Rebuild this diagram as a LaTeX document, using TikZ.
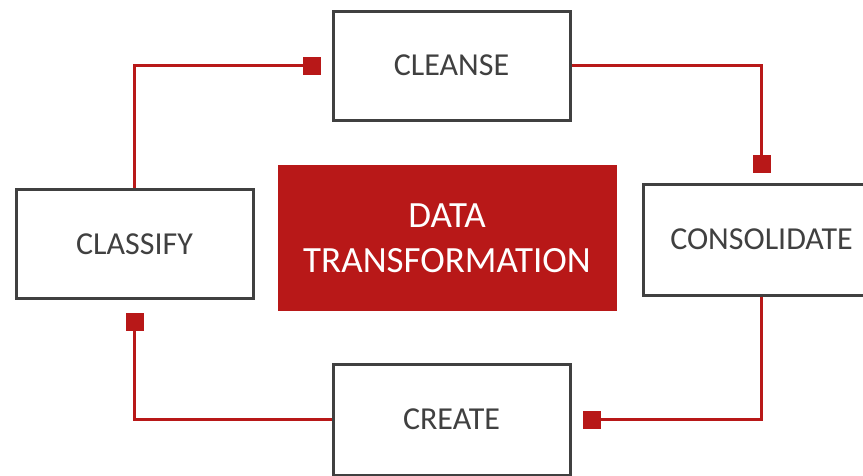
\documentclass[tikz,border=0pt]{standalone}
\usepackage{fontspec}
\setmainfont{Carlito}
\usetikzlibrary{arrows.meta, positioning}
\definecolor{boxgray}{RGB}{64,64,64}
\definecolor{brickred}{RGB}{184,24,24}
\tikzset{stagebox/.style = {%
    draw=boxgray, line width=3pt,
    minimum width=237pt, minimum height=109pt,
    text=boxgray, font=\fontsize{32}{38}\selectfont,
    inner sep=0pt, anchor=center},
    corebox/.style = {%
    fill=brickred, minimum width=339pt, minimum height=146pt,
    text=white, align=center,
    font=\fontsize{37}{45}\selectfont,
    inner sep=0pt, anchor=center},
    link/.style = {%
    draw=brickred, line width=3pt,
    -{Square[length=18pt, width=18pt]}}}

\begin{document}
\begin{tikzpicture}[x=1pt, y=-1pt]
\useasboundingbox (0,0) rectangle (863,475);
\node[stagebox] (cleanse)     at (451.5, 65.5)  {CLEANSE};
\node[stagebox] (classify)    at (134.5, 244)   {CLASSIFY};
\node[stagebox, minimum height=111pt]
                (consolidate) at (761.5, 239.5) {CONSOLIDATE};
\node[stagebox, minimum height=111pt]
                (create)      at (451.5, 419.5) {CREATE};
\node[corebox]  (core)        at (447, 238)     {\raisebox{-2pt}{DATA}\\\raisebox{-2pt}{TRANSFORMATION}};

\draw[link] (classify.north)    |- ([xshift=-11pt]cleanse.west);
\draw[link] (cleanse.east)      -| ([yshift=9.5pt]consolidate.north);
\draw[link] (consolidate.south) |- ([xshift=11pt]create.east);
\draw[link] (create.west)       -| ([yshift=-13pt]classify.south);
\end{tikzpicture}
\end{document}
